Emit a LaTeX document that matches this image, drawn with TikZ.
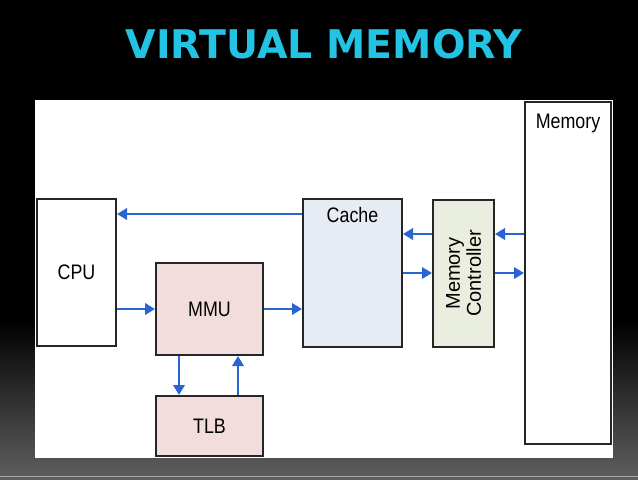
\documentclass[tikz,border=0pt]{standalone}
\usepackage{fontspec}
\usepackage{graphicx}
\setmainfont{Liberation Sans}
\newfontfamily\titlefont{DejaVu Sans}
\usetikzlibrary{arrows.meta}

\definecolor{titlecyan}{RGB}{35,195,228}
\definecolor{arrowblue}{RGB}{40,100,210}
\definecolor{mmufill}{RGB}{242,221,220}
\definecolor{cachefill}{RGB}{230,235,244}
\definecolor{ctrlfill}{RGB}{234,238,222}
\definecolor{bggray}{RGB}{95,95,95}

\newcommand{\narrowtxt}[1]{\scalebox{0.85}[1]{#1}}

\tikzset{
  box/.style={draw=black!85, line width=1.5pt, inner sep=0pt,
    font=\fontsize{15.75}{18}\selectfont},
  boxlbl/.style={anchor=north, inner sep=0pt,
    font=\fontsize{15.75}{18}\selectfont},
  link/.style={draw=arrowblue, line width=1.8pt,
    -{Triangle[length=7.5pt,width=8.5pt]}},
}

\begin{document}
\begin{tikzpicture}[x=0.75pt,y=-0.75pt]
  % Hintergrund
  \useasboundingbox (0,0) rectangle (638,479);
  \fill[black] (0,0) rectangle (638,479);
  \shade[top color=black, bottom color=bggray] (0,320) rectangle (638,479);
  \draw[gray!70, line width=0.75pt] (0,476.5) -- (638,476.5);
  \fill[white] (35,100) rectangle (613,458);

  % Titel
  \node[anchor=base, inner sep=0pt, text=titlecyan,
    font=\titlefont\bfseries\fontsize{29.6}{32}\selectfont] (title) at (324,58) {VIRTUAL MEMORY};

  % Bausteine
  \node[box, fill=white, minimum width=59.25pt, minimum height=110.25pt] (cpu) at (76.5,272.5) {\narrowtxt{CPU}};
  \node[box, fill=mmufill, minimum width=80.25pt, minimum height=69pt] (mmu) at (209.5,309) {\narrowtxt{MMU}};
  \node[box, fill=mmufill, minimum width=80.25pt, minimum height=45pt] (tlb) at (209.5,426) {\narrowtxt{TLB}};
  \node[box, fill=cachefill, minimum width=74.25pt, minimum height=111pt,
    label={[boxlbl, yshift=-6.75pt]north:\narrowtxt{Cache}}] (cache) at (352.5,273) {};
  % gedreht: Breite und Hoehe vertauscht, north = links, south = rechts
  \node[box, fill=ctrlfill, minimum width=110.25pt, minimum height=45.75pt,
    font=\fontsize{15}{15.75}\selectfont, align=center, rotate=90] (ctrl) at (463.5,273.5) {Memory\\Controller};
  \node[box, fill=white, minimum width=64.5pt, minimum height=256.5pt,
    label={[boxlbl, yshift=-9.75pt]north:\narrowtxt{Memory}}] (memory) at (568,273) {};

  % Verbindungen
  \coordinate (ytop) at (0,214);
  \coordinate (yup) at (0,234);
  \coordinate (ydn) at (0,273);
  \draw[link] (cache.west |- ytop) -- (cpu.east |- ytop);
  \draw[link] (cpu.east |- mmu.west) -- (mmu.west);
  \draw[link] (mmu.east) -- (cache.west |- mmu.east);
  \draw[link] ([xshift=18pt]mmu.south west) -- ([xshift=18pt]tlb.north west);
  \draw[link] ([xshift=-19.5pt]tlb.north east) -- ([xshift=-19.5pt]mmu.south east);
  \draw[link] (ctrl.north |- yup) -- (cache.east |- yup);
  \draw[link] (cache.east |- ydn) -- (ctrl.north |- ydn);
  \draw[link] (memory.west |- yup) -- (ctrl.south |- yup);
  \draw[link] (ctrl.south |- ydn) -- (memory.west |- ydn);
\end{tikzpicture}
\end{document}
